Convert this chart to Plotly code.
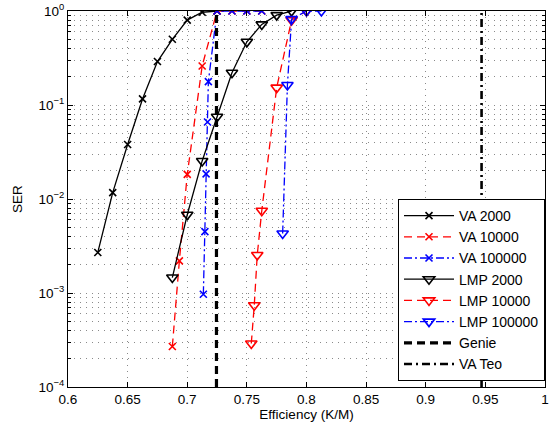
import plotly.graph_objects as go

# ---- data ----
va2000_x = [0.625, 0.6375, 0.65, 0.6625, 0.675, 0.6875, 0.70, 0.7125, 0.725]
va2000_y = [0.0027, 0.0117, 0.038, 0.116, 0.29, 0.50, 0.80, 0.97, 1.0]

va10000_x = [0.6875, 0.6934, 0.70, 0.7125, 0.725, 0.7375, 0.75, 0.7625]
va10000_y = [0.00027, 0.0022, 0.0183, 0.26, 1.0, 1.0, 1.0, 1.0]

va100000_x = [0.7135, 0.7148, 0.7158, 0.7170, 0.7177, 0.725, 0.7375, 0.75, 0.7625]
va100000_y = [0.00097, 0.0045, 0.0185, 0.066, 0.177, 1.0, 1.0, 1.0, 1.0]

lmp2000_x = [0.6875, 0.70, 0.7125, 0.725, 0.7375, 0.75, 0.7625, 0.775, 0.7875]
lmp2000_y = [0.00146, 0.0068, 0.0254, 0.075, 0.22, 0.47, 0.72, 0.905, 1.0]

lmp10000_x = [0.7537, 0.7562, 0.7587, 0.7625, 0.775, 0.7875, 0.80]
lmp10000_y = [0.00029, 0.00074, 0.00254, 0.0075, 0.153, 0.80, 1.0]

lmp100000_x = [0.780, 0.784, 0.7875, 0.80, 0.8125]
lmp100000_y = [0.0043, 0.163, 0.82, 1.0, 1.0]

genie_x = [0.7245, 0.7245]
vateo_x = [0.9468, 0.9468]
vline_y = [1e-4, 1.0]

x_ticks = [0.6, 0.65, 0.7, 0.75, 0.8, 0.85, 0.9, 0.95, 1.0]
x_ticklabels = ["0.6", "0.65", "0.7", "0.75", "0.8", "0.85", "0.9", "0.95", "1"]
y_ticks = [1e-4, 1e-3, 1e-2, 1e-1, 1.0]
y_ticklabels = ["10<sup>−4</sup>", "10<sup>−3</sup>", "10<sup>−2</sup>",
                "10<sup>−1</sup>", "10<sup>0</sup>"]

FONT = "Liberation Sans, Arial, Helvetica, sans-serif"
FS = 13.5
GRID = "#8a8a8a"
GRIDDASH = "1px,5px"
DASH = "8px,5px"
DASHDOT = "8px,3px,2px,3px"

fig = go.Figure()

def add(x, y, name, color, dash, symbol, msize, lw=1.3):
    fig.add_trace(go.Scatter(
        x=x, y=y, name=name, mode="lines+markers",
        line=dict(color=color, dash=dash, width=lw),
        marker=dict(symbol=symbol, size=msize, color=color,
                    line=dict(color=color, width=1.6)),
    ))

add(va2000_x, va2000_y, "VA 2000", "black", "solid", "x-thin-open", 7)
add(va10000_x, va10000_y, "VA 10000", "red", DASH, "x-thin-open", 7)
add(va100000_x, va100000_y, "VA 100000", "blue", DASHDOT, "x-thin-open", 7)
add(lmp2000_x, lmp2000_y, "LMP 2000", "black", "solid", "triangle-down-open", 10)
add(lmp10000_x, lmp10000_y, "LMP 10000", "red", DASH, "triangle-down-open", 10)
add(lmp100000_x, lmp100000_y, "LMP 100000", "blue", DASHDOT, "triangle-down-open", 10)

fig.add_trace(go.Scatter(x=genie_x, y=vline_y, name="Genie", mode="lines",
                         line=dict(color="black", dash="8px,5px", width=3.2)))
fig.add_trace(go.Scatter(x=vateo_x, y=vline_y, name="VA Teo", mode="lines",
                         line=dict(color="black", dash="8px,4px,2px,4px", width=2.6)))

axis_common = dict(
    showline=True, linecolor="black", linewidth=1.2, mirror="ticks",
    ticks="inside", tickcolor="black", ticklen=5,
    showgrid=True, gridcolor=GRID, griddash=GRIDDASH, gridwidth=1,
    zeroline=False, automargin=False,
    tickfont=dict(family=FONT, size=FS, color="black"),
)

fig.update_layout(
    width=555, height=430,
    margin=dict(l=68, r=10, t=11, b=43),
    paper_bgcolor="white", plot_bgcolor="white",
    font=dict(family=FONT, size=FS, color="black"),
    xaxis=dict(range=[0.6, 1.0], tickmode="array", tickvals=x_ticks,
               ticktext=x_ticklabels,
               title=dict(text="Efficiency (K/M)", standoff=2,
                          font=dict(family=FONT, size=FS)),
               **axis_common),
    yaxis=dict(type="log", range=[-4, 0], tickmode="array", tickvals=y_ticks,
               ticktext=y_ticklabels,
               title=dict(text="SER", standoff=12,
                          font=dict(family=FONT, size=FS)),
               minor=dict(dtick="D1", ticks="inside", ticklen=3, tickcolor="black",
                          showgrid=True, gridcolor=GRID,
                          griddash=GRIDDASH, gridwidth=1),
               **axis_common),
    legend=dict(x=1.0, xanchor="right", y=0.016, yanchor="bottom",
                bgcolor="white", bordercolor="black", borderwidth=1,
                font=dict(family=FONT, size=14), tracegroupgap=0,
                itemwidth=50),
    showlegend=True,
)

fig.write_html("out.html", config={"displayModeBar": False},
               post_script="document.body.style.margin='0';")
